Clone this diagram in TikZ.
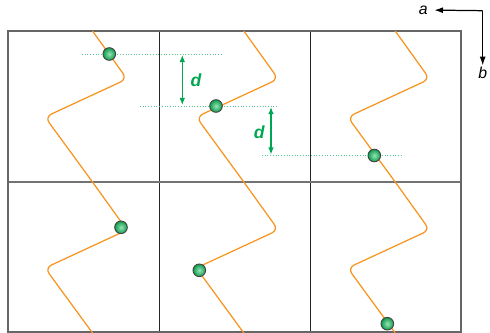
\documentclass[tikz,border=0pt]{standalone}
\usepackage{fontspec}
\setsansfont{Liberation Sans}
\usetikzlibrary{arrows.meta}

\definecolor{orangecourbe}{HTML}{F7941D}
\definecolor{vertcote}{HTML}{00A651}
\definecolor{vertfonce}{HTML}{0E9A4C}
\definecolor{vertclair}{HTML}{96E6B6}

\tikzset{
  courbe/.style={orangecourbe, line width=0.7pt, rounded corners=4pt},
  repere/.style={vertcote!65, densely dotted, line width=0.55pt},
  cote/.style={{Latex[length=4pt,width=3.2pt]}-{Latex[length=4pt,width=3.2pt]}, vertcote, line width=0.75pt},
  etiqd/.style={vertcote, font=\sffamily\bfseries\itshape\fontsize{10}{12}\selectfont},
  bille/.style={circle, draw=black!75, line width=0.5pt, minimum size=7.2pt, inner sep=0pt,
    inner color=vertclair, outer color=vertfonce},
  axe/.style={font=\sffamily\itshape\fontsize{9}{11}\selectfont, inner sep=0.5pt}
}

\begin{document}
\begin{tikzpicture}[x=0.02cm,y=-0.02cm]
\useasboundingbox (0,0) rectangle (490,333);

% Grille
\draw[black!85, line width=0.75pt] (159.3,31) -- (159.3,332) (310.7,31) -- (310.7,332);
\draw[black!55, line width=0.75pt] (8,182) -- (461,182);
\draw[black!60, line width=0.75pt] (8,31) rectangle (461,332);

% Courbes
\foreach \cx in {8,159.3,310.7}
\foreach \cy in {31,182}
{
    \draw[courbe] (\cx+84.5,\cy) -- (\cx+119,\cy+48) -- (\cx+37,\cy+86) -- (\cx+84.5,\cy+151);
}

% Reperes
\coordinate (r1g) at (82,54);
\coordinate (r1d) at (221,54);
\coordinate (r2g) at (140,106);
\coordinate (r2d) at (278,106);
\coordinate (r3g) at (262,155.5);
\coordinate (r3d) at (401,155.5);
\draw[repere] (r1g) -- (r1d);
\draw[repere] (r2g) -- (r2d);
\draw[repere] (r3g) -- (r3d);

% Cotes d
\coordinate (c1h) at (182.3,55);
\coordinate (c1b) at (182.3,105);
\coordinate (c2h) at (271,107);
\coordinate (c2b) at (271,154.5);
\draw[cote] (c1h) -- (c1b);
\draw[cote] (c2h) -- (c2b);
\node[etiqd] (d1) at (196,80) {d};
\node[etiqd] (d2) at (259.3,132) {d};

% Billes
\node[bille] (p1) at (109.3,54) {};
\node[bille] (p2) at (216,106) {};
\node[bille] (p3) at (374.3,155.5) {};
\node[bille] (p4) at (121,227.3) {};
\node[bille] (p5) at (199.3,270.3) {};
\node[bille] (p6) at (387.3,323.7) {};

% Axes
\coordinate (o) at (482.7,10.7);
\node[axe, inner xsep=3.5pt] (a) at (423.3,10) {a};
\node[axe] (b) at (482.7,72.5) {b};
\draw[-{Latex[length=5pt,width=3.4pt]}, line width=0.7pt] (o) -- (a);
\draw[-{Latex[length=5pt,width=3.4pt]}, line width=0.7pt] (o) -- (b);

\end{tikzpicture}
\end{document}
